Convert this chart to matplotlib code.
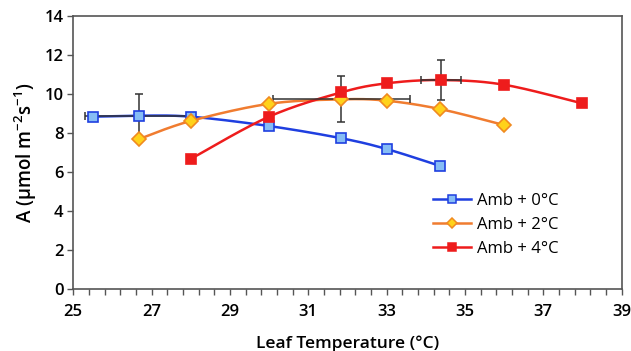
import numpy as np
import matplotlib
matplotlib.use('agg')
import matplotlib.pyplot as plt
from matplotlib.lines import Line2D

plt.rcParams['font.family'] = ['Open Sans', 'DejaVu Sans']
plt.rcParams['mathtext.default'] = 'regular'

# leaf temperature (C) and net assimilation for each warming treatment
temp_0 = [25.5, 26.68, 28.0, 30.0, 31.85, 33.0, 34.37]
a_0 = [8.84, 8.89, 8.84, 8.36, 7.73, 7.18, 6.31]

temp_2 = [26.68, 28.0, 30.0, 31.85, 33.0, 34.37, 36.0]
a_2 = [7.69, 8.62, 9.5, 9.73, 9.66, 9.23, 8.41]

temp_4 = [28.0, 30.0, 31.85, 33.0, 34.39, 36.0, 38.0]
a_4 = [6.67, 8.84, 10.09, 10.55, 10.72, 10.48, 9.52]

# one point per series carries the error bars (index, x err, y err)
err_0 = (1, 1.38, 1.1)
err_2 = (3, 1.75, 1.18)
err_4 = (4, 0.52, 1.05)

labels = ['Amb + 0\u00b0C', 'Amb + 2\u00b0C', 'Amb + 4\u00b0C']
x_ticks = [25, 27, 29, 31, 33, 35, 37, 39]
y_ticks = [0, 2, 4, 6, 8, 10, 12, 14]


def smooth(xs, ys, n=25):
    # catmull-rom curve through the points, like a spreadsheet "smoothed line"
    pts = np.column_stack([xs, ys])
    p = np.vstack([pts[0], pts, pts[-1]])
    t = np.linspace(0, 1, n)[:, None]
    out = []
    for i in range(1, len(p) - 2):
        p0, p1, p2, p3 = p[i - 1], p[i], p[i + 1], p[i + 2]
        seg = 0.5 * (2 * p1 + (-p0 + p2) * t + (2 * p0 - 5 * p1 + 4 * p2 - p3) * t ** 2
                     + (-p0 + 3 * p1 - 3 * p2 + p3) * t ** 3)
        out.append(seg)
    c = np.vstack(out)
    return c[:, 0], c[:, 1]


fig = plt.figure(figsize=(6.31, 3.51), dpi=100)
ax = fig.add_axes([0.116, 0.177, 0.869, 0.777])

series = [
    (temp_0, a_0, err_0, '#1f3fe0', 's', '#86bdf5', '#1f3fe0', 7),
    (temp_2, a_2, err_2, '#f07c30', 'D', '#ffd21a', '#f08a20', 7),
    (temp_4, a_4, err_4, '#ee1c1c', 's', '#ee1c1c', '#ee1c1c', 7.5),
]

handles = []
for (xs, ys, err, col, mk, fc, ec, ms), lab in zip(series, labels):
    sx, sy = smooth(xs, ys)
    ax.plot(sx, sy, color=col, lw=1.8, zorder=2, solid_capstyle='round')
    i, xe, ye = err
    ax.errorbar(xs[i], ys[i], xerr=xe, yerr=ye, fmt='none', ecolor='#333333',
                elinewidth=1.1, capsize=3, capthick=1.1, zorder=3)
    ax.plot(xs, ys, ls='none', marker=mk, ms=ms, mfc=fc, mec=ec, mew=1.2, zorder=4)
    handles.append(Line2D([], [], color=col, lw=1.8, marker=mk, ms=ms - 1.5,
                          mfc=fc, mec=ec, mew=1.1))

ax.set_xlim(25, 39)
ax.set_ylim(0, 14)
ax.set_xticks(x_ticks)
ax.set_xticks(np.arange(25, 39.01, 0.4), minor=True)
ax.set_yticks(y_ticks)

for s in ax.spines.values():
    s.set_color('#555555')
    s.set_linewidth(1.2)
ax.tick_params(axis='both', which='both', direction='out', color='#555555', width=1)
ax.tick_params(axis='both', which='major', length=4, labelsize=12)
ax.tick_params(axis='x', which='major', pad=7)
ax.tick_params(axis='y', which='major', pad=3)
ax.tick_params(axis='x', which='minor', length=4)
for t in ax.get_xticklabels() + ax.get_yticklabels():
    t.set_fontweight('semibold')

ax.set_xlabel('Leaf Temperature (\u00b0C)', fontsize=12.5, fontweight='semibold', labelpad=11)
ax.set_ylabel('A (\u03bcmol m$^{-2}$s$^{-1}$)', fontsize=13.5, fontweight='semibold', labelpad=4)

ax.legend(handles, labels, loc='upper left', bbox_to_anchor=(0.686, 0.451),
          bbox_transform=fig.transFigure, frameon=False, fontsize=12,
          handlelength=2.3, labelspacing=0.48, handletextpad=0.35,
          borderpad=0, borderaxespad=0)

plt.savefig('out.png', dpi=100)
